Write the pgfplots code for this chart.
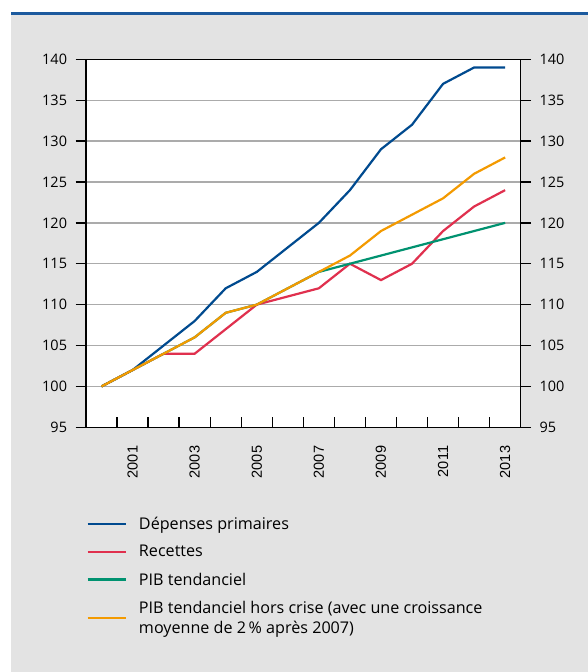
\documentclass[border=0pt]{standalone}
\usepackage{fontspec}
\setmainfont{Open Sans}
\newfontfamily\arialfont{Liberation Sans}
\usepackage{pgfplots}
\pgfplotsset{compat=1.18}
\definecolor{bggray}{HTML}{E3E3E3}
\definecolor{topblue}{HTML}{1C5A9E}
\definecolor{cblue}{HTML}{004A8F}
\definecolor{cred}{HTML}{E0304E}
\definecolor{cgreen}{HTML}{009270}
\definecolor{corange}{HTML}{F39A00}
\definecolor{gridgray}{HTML}{ABABAB}
\pgfplotstableread{
year dep rec pib pibhc
2000 100 100 100 100
2001 102 102 102 102
2002 105 104 104 104
2003 108 104 106 106
2004 112 107 109 109
2005 114 110 110 110
2006 117 111 112 112
2007 120 112 114 114
2008 124 115 115 116
2009 129 113 116 119
2010 132 115 117 121
2011 137 119 118 123
2012 139 122 119 126
2013 139 124 120 128
}\datatable
\pgfplotsset{
  common/.style={
    at={(86bp,244.7bp)}, anchor=south west, scale only axis,
    width=434.7bp, height=368bp,
    xmin=1999.5, xmax=2013.5, ymin=95, ymax=140,
    ytick={95,100,...,140},
    ytick align=outside,
    major tick length=10.5bp,
    axis line style={line width=1.3bp, black},
    major tick style={line width=1.3bp, black},
    tick label style={font=\fontsize{14.5}{17}\selectfont, /pgf/number format/assume math mode=true},
  }
}
\begin{document}
\begin{tikzpicture}
\useasboundingbox (0bp,0bp) rectangle (588bp,672bp);
\fill[white] (0bp,0bp) rectangle (588bp,672bp);
\fill[bggray] (11bp,0bp) rectangle (588bp,657bp);
\draw[topblue, line width=2.5bp] (11bp,658.5bp) -- (588bp,658.5bp);
\begin{axis}[common,
  axis background/.style={fill=white},
  xtick={2000.5,2001.5,...,2012.5}, xticklabels={},
  xtick pos=bottom, xtick align=inside,
  ytick pos=left,
  yticklabel style={xshift=-5bp},
  extra x ticks={2001,2003,2005,2007,2009,2011,2013},
  extra x tick labels={2001,2003,2005,2007,2009,2011,2013},
  extra x tick style={major tick length=0pt, tick label style={rotate=90, anchor=east, font=\arialfont\fontsize{14.6}{16}\selectfont, xshift=-15bp}},
  ymajorgrids, major grid style={color=gridgray, line width=1.3bp},
  legend style={at={(0,-0.238)}, anchor=north west, draw=none, fill=none,
    font=\fontsize{16.2}{20}\selectfont, cells={anchor=west, align=left},
    row sep=10.5bp, inner sep=0pt,
    /tikz/every odd column/.append style={column sep=10bp}},
  legend image code/.code={\draw[#1, line width=2.8bp] (0bp,0bp) -- (38bp,0bp);},
]
\addplot[cblue, line width=2.2bp] table[x=year, y=dep] {\datatable};
\addlegendentry{Dépenses primaires}
\addplot[cred, line width=2.2bp] table[x=year, y=rec] {\datatable};
\addlegendentry{Recettes}
\addplot[cgreen, line width=2.2bp] table[x=year, y=pib] {\datatable};
\addlegendentry{PIB tendanciel}
\addplot[corange, line width=2.2bp] table[x=year, y=pibhc] {\datatable};
\addlegendentry{PIB tendanciel hors crise (avec une croissance\\moyenne de 2\,\% après 2007)}
\end{axis}
\begin{axis}[common,
  axis x line=none, axis y line*=right,
  ytick pos=right, yticklabel pos=right,
  yticklabel style={xshift=5bp},
]
\end{axis}
\end{tikzpicture}
\end{document}
